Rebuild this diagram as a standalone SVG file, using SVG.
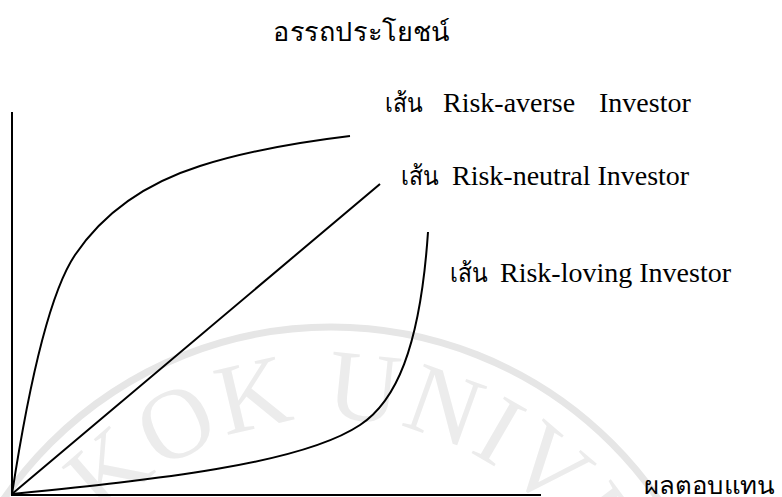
<svg xmlns="http://www.w3.org/2000/svg" width="782" height="497" viewBox="0 0 782 497">
  <defs>
    <style>
      .lbl { font-family: "Liberation Serif", serif; font-size: 28px; fill: #000; }
      .thai { font-family: "Liberation Serif", "Noto Sans", "DejaVu Sans", serif; font-size: 26px; fill: #000; }
      .xlbl { font-family: "Noto Sans", "DejaVu Sans", sans-serif; font-size: 24px; fill: #000; }
      .curve { fill: none; stroke: #000; stroke-width: 2; }
      .axis { fill: none; stroke: #000; stroke-width: 2; }
      .wm { fill: #ececec; font-family: "Liberation Serif", serif; font-size: 100px; }
    </style>
    <path id="wmArc" d="M66.9,571.5 A305,305 0 0 1 595.1,571.5"/>
  </defs>
  <rect width="782" height="497" fill="#fff"/>
  <g id="watermark">
    <path d="M-66,724 A397,397 0 0 1 728,724" fill="none" stroke="#e6e6e6" stroke-width="7"/>
    <text class="wm" letter-spacing="2"><textPath href="#wmArc" startOffset="63.5">KOK UNIVE</textPath></text>
  </g>
  <g id="axes">
    <line class="axis" x1="12" y1="112" x2="12" y2="495"/>
    <line class="axis" x1="11" y1="495" x2="541" y2="495"/>
  </g>
  <g id="connectors">
    <path id="risk-averse" class="curve" d="M12,494 C28,390 48,295 75,255 C100,218 140,185 200,166 C250,150 300,142 350,136"/>
    <path id="risk-neutral" class="curve" d="M12,494 L380,184"/>
    <path id="risk-loving" class="curve" d="M12,494 C150,480 300,465 360,425 C395,402 420,350 428,232"/>
  </g>
  <g id="title">
    <text class="thai" x="273" y="41" textLength="177" lengthAdjust="spacingAndGlyphs">อรรถประโยชน์</text>
  </g>
  <g id="label-averse">
    <text class="thai" x="385" y="112" textLength="38" lengthAdjust="spacingAndGlyphs">เส้น</text>
    <text class="lbl" x="443" y="112">Risk-averse</text>
    <text class="lbl" x="599" y="112">Investor</text>
  </g>
  <g id="label-neutral">
    <text class="thai" x="401" y="185" textLength="38" lengthAdjust="spacingAndGlyphs">เส้น</text>
    <text class="lbl" x="452" y="185">Risk-neutral Investor</text>
  </g>
  <g id="label-loving">
    <text class="thai" x="450" y="282" textLength="38" lengthAdjust="spacingAndGlyphs">เส้น</text>
    <text class="lbl" x="500" y="282">Risk-loving Investor</text>
  </g>
  <g id="x-label">
    <text class="xlbl" x="644" y="494" textLength="130" lengthAdjust="spacingAndGlyphs">ผลตอบแทน</text>
  </g>
</svg>
